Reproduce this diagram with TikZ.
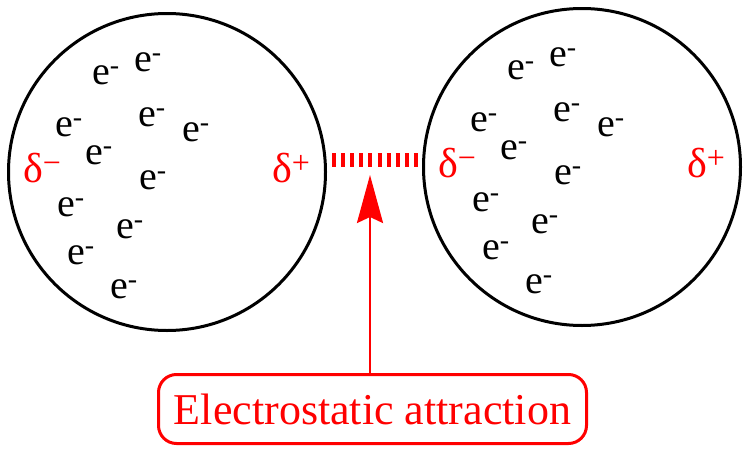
\documentclass[tikz,border=0pt]{standalone}
\usepackage{fontspec}
\setmainfont{Liberation Serif}
\usetikzlibrary{arrows.meta,calc}
\newcommand{\dsign}[1]{δ\raisebox{9pt}{\fontsize{32}{32}\selectfont#1}}

\begin{document}
\begin{tikzpicture}[>={Stealth[length=48pt,width=26pt,inset=6pt]},line join=round,x=1pt,y=-1pt,
		atom/.style={draw,circle,line width=3pt,minimum size=317pt,inner sep=0pt},
		elec/.style={font=\fontsize{40}{40}\selectfont,inner sep=0pt,anchor=base west},
		dlt/.style={red,font=\fontsize{42}{42}\selectfont,inner sep=0pt,anchor=base west}]
	\useasboundingbox (0,0) rectangle (750,455);
	\node[atom] (atomA) at (167,172) {};
	\node[atom] (atomB) at (582,167) {};
	\foreach \a in {A,B}{
		\foreach \dx/\dy [count=\i] in {-75/-88,-33/-101,-112/-36,-29/-46,15/-31,-82/-8,-28/17,-110/44,-51/66,-100/92,-57/126}{
			\node[elec] (e\a\i) at ($(atom\a)+(\dx,\dy)$) {e\textsuperscript{-}};
		}
		\node[dlt] (neg\a) at ($(atom\a)+(-144,10)$) {\dsign{−}};
		\node[dlt] (pos\a) at ($(atom\a)+(105,10)$) {\dsign{+}};
	}
	\coordinate (bond) at (375,160);
	\draw[red,line width=14pt,dash pattern=on 4pt off 5.1pt,shorten <=5pt,shorten >=4pt] (bond -| atomA.east)--(bond -| atomB.west);
	\node[draw=red,line width=3pt,rounded corners=18pt,minimum width=428pt,minimum height=69pt,text=red,font=\fontsize{44}{44}\selectfont] (label) at (372.5,409) {Electrostatic attraction};
	\coordinate (tip) at (370,175);
	\draw[->,red,line width=2.5pt] (label.north -| tip)--(tip);
\end{tikzpicture}
\end{document}
